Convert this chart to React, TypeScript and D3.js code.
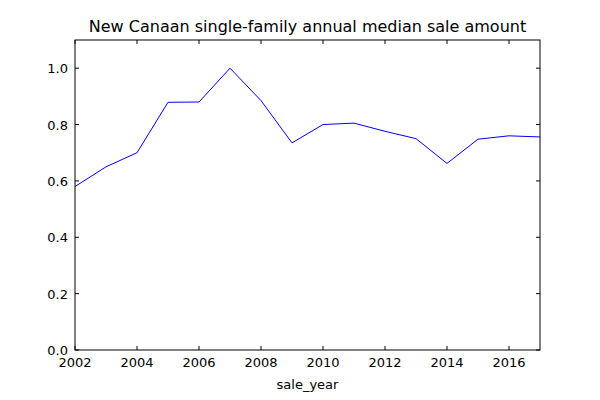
import { useEffect, useRef } from "react";
import * as d3 from "d3";

const years = [2002, 2003, 2004, 2005, 2006, 2007, 2008, 2009, 2010, 2011, 2012, 2013, 2014, 2015, 2016, 2017];
const values = [0.58, 0.65, 0.70, 0.879, 0.88, 1.0, 0.885, 0.735, 0.80, 0.805, 0.776, 0.75, 0.662, 0.748, 0.76, 0.756];
const xTicks = [2002, 2004, 2006, 2008, 2010, 2012, 2014, 2016];
const yTicks = [0, 0.2, 0.4, 0.6, 0.8, 1.0];

export default function App() {
  const ref = useRef<SVGSVGElement>(null);
  const m = { left: 75, top: 40, right: 540, bottom: 350 };

  useEffect(() => {
    const svg = d3.select(ref.current);
    svg.selectAll("*").remove();
    const x = d3.scaleLinear().domain([2002, 2017]).range([m.left, m.right]);
    const y = d3.scaleLinear().domain([0, 1.1]).range([m.bottom, m.top]);
    const font = "DejaVu Sans, sans-serif";

    svg.append("rect").attr("width", 600).attr("height", 400).attr("fill", "white");

    const line = d3.line<number>().x((_, i) => x(years[i])).y((d) => y(d));
    svg.append("path").datum(values).attr("d", line).attr("fill", "none")
      .attr("stroke", "blue").attr("stroke-width", 1);

    const g = svg.append("g").attr("stroke", "black").attr("stroke-width", 1);
    xTicks.forEach((t) => {
      g.append("line").attr("x1", x(t)).attr("x2", x(t)).attr("y1", m.bottom).attr("y2", m.bottom - 4);
      g.append("line").attr("x1", x(t)).attr("x2", x(t)).attr("y1", m.top).attr("y2", m.top + 4);
      svg.append("text").attr("x", x(t)).attr("y", m.bottom + 17).attr("text-anchor", "middle")
        .attr("font-family", font).attr("font-size", 13).text(t);
    });
    yTicks.forEach((t) => {
      g.append("line").attr("x1", m.left).attr("x2", m.left + 4).attr("y1", y(t)).attr("y2", y(t));
      g.append("line").attr("x1", m.right).attr("x2", m.right - 4).attr("y1", y(t)).attr("y2", y(t));
      svg.append("text").attr("x", m.left - 7).attr("y", y(t) + 5).attr("text-anchor", "end")
        .attr("font-family", font).attr("font-size", 13).text(t.toFixed(1));
    });

    svg.append("rect").attr("x", m.left).attr("y", m.top).attr("width", m.right - m.left)
      .attr("height", m.bottom - m.top).attr("fill", "none").attr("stroke", "black");

    svg.append("text").attr("x", (m.left + m.right) / 2).attr("y", 32).attr("text-anchor", "middle")
      .attr("font-family", font).attr("font-size", 16).text("New Canaan single-family annual median sale amount");
    svg.append("text").attr("x", (m.left + m.right) / 2).attr("y", 389).attr("text-anchor", "middle")
      .attr("font-family", font).attr("font-size", 13).text("sale_year");
  }, []);

  return <svg ref={ref} width={600} height={400} style={{ position: "absolute", left: 0, top: 0 }} />;
}
